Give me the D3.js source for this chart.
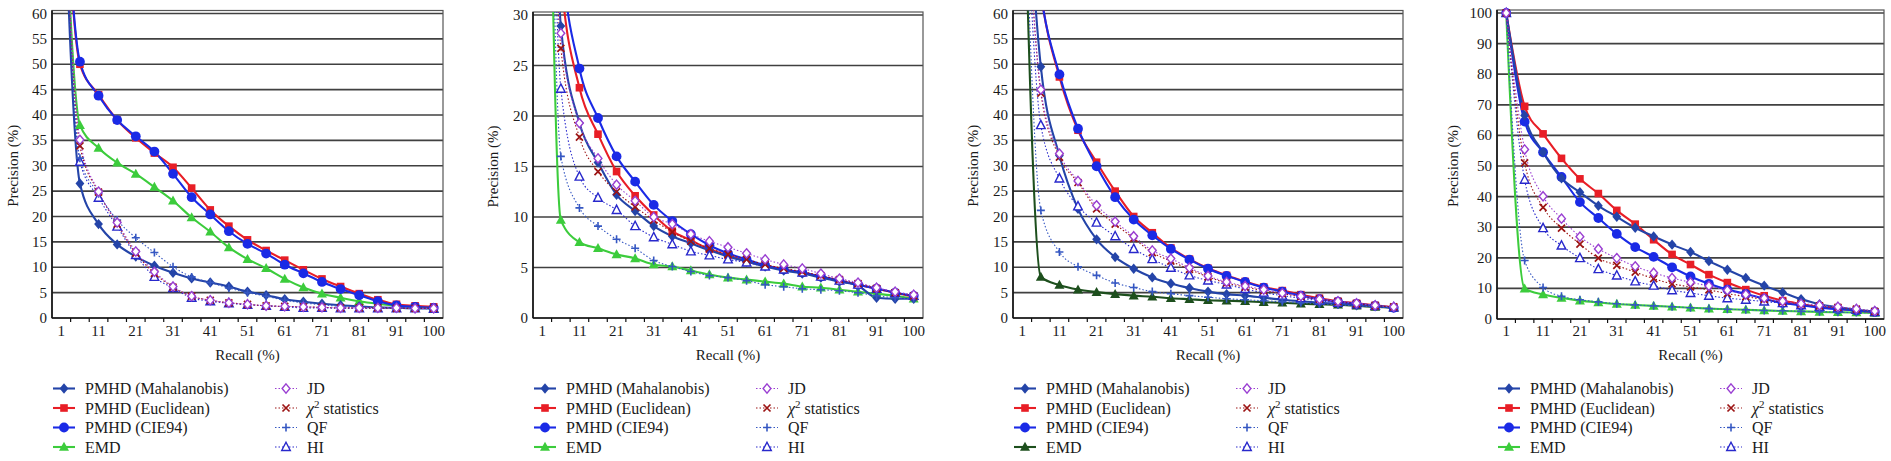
<!DOCTYPE html>
<html><head><meta charset="utf-8">
<script src="https://cdn.jsdelivr.net/npm/d3@7"></script>
<style>
body{margin:0;background:#fff}
svg{display:block}
</style>
</head><body>
<svg id="c" width="1891" height="461"></svg>
<script>
// ---- categories (recall %) ----
const recall = ["1","6","11","16","21","26","31","36","41","46","51","56","61","66","71","76","81","86","91","96","100"];
const xTickLabels = ["1","11","21","31","41","51","61","71","81","91","100"];
const seriesNames = ["PMHD (Mahalanobis)","PMHD (Euclidean)","PMHD (CIE94)","EMD","JD","χ2 statistics","QF","HI"];

// ---- panel 1 ----
const mahal1 = [100,26.5,18.5,14.5,12.1,10.3,8.9,7.8,7.0,6.2,5.2,4.5,3.7,3.2,2.8,2.5,2.3,2.1,2.0,1.9,1.9];
const eucl1  = [100,50.0,44.0,39.0,35.5,32.5,29.7,25.6,21.3,18.1,15.4,13.3,11.4,9.5,7.7,6.2,4.8,3.6,2.7,2.4,2.2];
const cie1   = [100,50.5,43.8,39.0,35.8,32.8,28.4,23.8,20.4,17.1,14.6,12.7,10.5,8.8,7.1,5.7,4.5,3.3,2.5,2.2,2.0];
const emd1   = [100,38.0,33.5,30.6,28.4,25.8,23.1,19.8,17.0,13.9,11.6,9.8,7.7,6.0,4.8,4.0,3.3,2.8,2.4,2.2,2.0];
const jd1    = [100,35.1,24.9,18.8,13.1,9.1,6.2,4.3,3.5,3.0,2.7,2.4,2.3,2.2,2.1,2.0,2.0,2.0,2.0,1.9,1.9];
const chi1   = [100,33.9,24.8,18.5,12.8,8.8,6.1,4.3,3.5,3.0,2.7,2.4,2.3,2.2,2.1,2.0,2.0,2.0,1.9,1.9,1.9];
const qf1    = [100,31.5,24.5,19.3,15.8,12.9,10.1,8.1,7.0,5.9,5.0,4.3,3.5,3.0,2.6,2.3,2.1,2.0,1.9,1.9,1.8];
const hi1    = [100,30.8,23.7,18.0,12.4,8.1,5.9,4.0,3.3,2.9,2.6,2.4,2.2,2.0,2.0,1.9,1.9,1.9,1.9,1.9,1.8];

// ---- panel 2 ----
const mahal2 = [100,28.9,19.3,15.4,12.2,10.6,9.1,8.1,7.4,6.7,6.1,5.6,5.1,4.7,4.4,4.0,3.6,3.2,2.0,1.9,1.9];
const eucl2  = [100,34.0,22.8,18.2,14.5,12.1,10.2,8.6,7.7,6.8,6.2,5.6,5.2,4.8,4.5,4.1,3.7,3.3,2.9,2.5,2.1];
const cie2   = [100,37.0,24.7,19.8,16.0,13.5,11.2,9.6,8.3,7.2,6.4,5.8,5.2,4.8,4.5,4.1,3.7,3.3,2.9,2.5,2.2];
const emd2   = [100,9.7,7.5,6.9,6.3,5.9,5.3,5.1,4.7,4.3,4.0,3.8,3.6,3.4,3.1,3.0,2.8,2.6,2.4,2.2,1.9];
const jd2    = [100,28.2,19.3,15.8,13.2,11.6,10.0,9.3,8.3,7.6,7.0,6.4,5.8,5.3,4.9,4.4,3.9,3.5,3.0,2.6,2.3];
const chi2   = [100,26.7,17.9,14.5,12.5,11.0,9.7,8.5,7.6,6.9,6.3,5.8,5.3,4.9,4.6,4.2,3.8,3.4,2.9,2.5,2.2];
const qf2    = [100,16.0,10.9,9.1,7.8,6.9,5.7,5.1,4.6,4.2,4.0,3.7,3.3,3.1,2.9,2.8,2.7,2.5,2.2,2.0,1.9];
const hi2    = [100,22.7,14.0,11.9,10.7,9.1,8.0,7.3,6.6,6.2,5.8,5.5,5.1,4.8,4.5,4.1,3.7,3.3,2.9,2.5,2.2];

// ---- panel 3 ----
const mahal3 = [100,49.5,32.0,21.5,15.5,12.0,9.7,8.0,6.8,5.9,5.2,4.7,4.4,4.0,3.6,3.3,3.0,2.8,2.5,2.3,2.1];
const eucl3  = [100,64.0,47.5,37.0,30.7,25.0,20.0,16.8,13.8,11.6,9.8,8.4,7.2,6.1,5.4,4.6,3.9,3.3,2.9,2.5,2.1];
const cie3   = [100,64.0,48.0,37.3,29.9,23.8,19.4,16.3,13.6,11.5,9.7,8.3,7.1,6.0,5.2,4.4,3.7,3.2,2.8,2.4,2.0];
const emd3   = [100,8.1,6.5,5.6,5.1,4.7,4.4,4.2,3.9,3.7,3.5,3.4,3.3,3.1,3.0,2.8,2.7,2.6,2.4,2.2,2.0];
const jd3    = [100,45.0,32.4,27.0,22.2,19.0,16.1,13.3,11.7,9.9,8.3,7.1,6.3,5.6,4.9,4.3,3.7,3.3,2.9,2.5,2.2];
const chi3   = [100,44.3,31.7,26.7,21.5,18.5,15.7,12.9,11.2,9.6,8.1,6.9,6.1,5.4,4.8,4.2,3.7,3.2,2.8,2.4,2.2];
const qf3    = [100,21.2,13.0,10.1,8.4,6.9,6.0,5.2,4.8,4.4,4.1,3.8,3.6,3.4,3.2,3.0,2.8,2.6,2.4,2.2,2.0];
const hi3    = [100,38.0,27.5,22.0,18.8,16.1,13.6,11.6,9.9,8.4,7.4,6.6,5.7,5.0,4.4,3.9,3.4,3.0,2.7,2.4,2.1];

// ---- panel 4 ----
const mahal4 = [100,66.5,54.5,46.0,41.4,37.0,33.4,29.8,27.0,24.3,21.9,18.9,16.1,13.4,10.9,8.7,6.5,4.8,3.8,3.0,2.4];
const eucl4  = [100,69.5,60.5,52.5,45.8,41.0,35.5,31.0,25.9,21.1,17.8,14.5,11.9,9.6,7.6,6.0,4.9,3.9,3.3,2.8,2.2];
const cie4   = [100,64.5,54.5,46.4,38.2,33.0,27.8,23.5,20.3,16.9,13.9,11.5,9.6,8.2,6.6,5.2,4.5,3.7,3.2,2.8,2.3];
const emd4   = [100,9.9,8.0,6.9,6.0,5.4,4.9,4.6,4.3,4.0,3.7,3.4,3.2,3.0,2.8,2.6,2.5,2.3,2.2,2.1,2.0];
const jd4    = [100,55.4,40.1,32.8,26.9,22.9,19.9,17.2,15.1,13.4,12.0,10.8,9.4,8.0,6.8,5.8,5.0,4.5,4.0,3.3,2.6];
const chi4   = [100,51.0,36.5,29.7,24.5,19.9,17.5,15.3,13.2,11.5,10.5,9.5,8.3,7.3,6.4,5.6,4.9,4.3,3.8,3.2,2.5];
const qf4    = [100,19.1,10.3,7.4,6.3,5.6,5.0,4.6,4.3,4.0,3.7,3.4,3.2,3.0,2.8,2.7,2.5,2.4,2.2,2.1,2.0];
const hi4    = [100,45.5,29.7,24.0,19.9,16.3,14.2,12.3,10.9,9.4,8.5,7.6,6.8,6.3,5.7,5.2,4.5,4.0,3.5,3.0,2.3];

// ---- y-axis ranges ----
const yMaxes = [60, 30, 60, 100];
const ySteps = [5, 5, 5, 10];

// ---- styles (not data) ----
const FONT = "Liberation Serif";
const styles = [
  {color:"#2444a8", marker:"diamond", dotted:false},
  {color:"#e81e26", marker:"square",  dotted:false},
  {color:"#1a2ae6", marker:"circle",  dotted:false},
  {color:"#3ccc3c", marker:"triangle",dotted:false},
  {color:"#9a3fd2", marker:"odiamond",dotted:true},
  {color:"#9c1414", marker:"x",       dotted:true},
  {color:"#3557c2", marker:"plus",    dotted:true},
  {color:"#2828cc", marker:"otriangle",dotted:true}
];
const emdDark = "#1d4f1d";

const panelData = [
  [mahal1,eucl1,cie1,emd1,jd1,chi1,qf1,hi1],
  [mahal2,eucl2,cie2,emd2,jd2,chi2,qf2,hi2],
  [mahal3,eucl3,cie3,emd3,jd3,chi3,qf3,hi3],
  [mahal4,eucl4,cie4,emd4,jd4,chi4,qf4,hi4]
];
const layout = [
  {left:52,  right:443,  top:13.5, bottom:318, ylab:13},
  {left:533, right:923,  top:15,   bottom:318, ylab:493},
  {left:1013,right:1403, top:13.5, bottom:318, ylab:973},
  {left:1497,right:1884, top:13,   bottom:319, ylab:1453}
];

const svg = d3.select("#c");
const defs = svg.append("defs");

function txt(g){ return g.append("text").attr("font-family", FONT).attr("fill", "#1a1a1a"); }

function drawMarker(g, type, cx, cy, color){
  switch(type){
    case "diamond":
      g.append("path").attr("d",`M${cx},${cy-5.2}L${cx+4.4},${cy}L${cx},${cy+5.2}L${cx-4.4},${cy}Z`).attr("fill",color); break;
    case "odiamond":
      g.append("path").attr("d",`M${cx},${cy-4.6}L${cx+3.9},${cy}L${cx},${cy+4.6}L${cx-3.9},${cy}Z`).attr("fill","#fff").attr("stroke",color).attr("stroke-width",1.4); break;
    case "square":
      g.append("rect").attr("x",cx-3.8).attr("y",cy-3.8).attr("width",7.6).attr("height",7.6).attr("fill",color); break;
    case "circle":
      g.append("circle").attr("cx",cx).attr("cy",cy).attr("r",4.9).attr("fill",color); break;
    case "triangle":
      g.append("path").attr("d",`M${cx},${cy-5.2}L${cx+5},${cy+3.8}L${cx-5},${cy+3.8}Z`).attr("fill",color); break;
    case "otriangle":
      g.append("path").attr("d",`M${cx},${cy-4.8}L${cx+4.3},${cy+3.5}L${cx-4.3},${cy+3.5}Z`).attr("fill","#fff").attr("stroke",color).attr("stroke-width",1.4); break;
    case "x":
      g.append("path").attr("d",`M${cx-3.5},${cy-3.5}L${cx+3.5},${cy+3.5}M${cx-3.5},${cy+3.5}L${cx+3.5},${cy-3.5}`).attr("stroke",color).attr("stroke-width",1.7); break;
    case "plus":
      g.append("path").attr("d",`M${cx-4},${cy}L${cx+4},${cy}M${cx},${cy-4}L${cx},${cy+4}`).attr("stroke",color).attr("stroke-width",1.6); break;
  }
}

panelData.forEach((series, pi) => {
  const L = layout[pi];
  const yMax = yMaxes[pi], yStep = ySteps[pi];
  const g = svg.append("g");
  const x = d3.scaleBand().domain(recall).range([L.left, L.right]).paddingInner(0).paddingOuter(0);
  const bw = x.bandwidth();
  const cx = r => x(r) + bw/2;
  const y = d3.scaleLinear().domain([0, yMax]).range([L.bottom, L.top]);
  const frameTop = L.top - 3;

  // gridlines
  const yTicks = d3.range(0, yMax + 0.001, yStep);
  g.selectAll(".grid").data(yTicks.filter(v => v > 0)).enter().append("line")
    .attr("x1", L.left).attr("x2", L.right).attr("y1", d => y(d)).attr("y2", d => y(d))
    .attr("stroke", "#404040").attr("stroke-width", 1.7);
  // frame
  g.append("rect").attr("x", L.left).attr("y", frameTop).attr("width", L.right - L.left).attr("height", L.bottom - frameTop)
    .attr("fill", "none").attr("stroke", "#555").attr("stroke-width", 1.2);
  g.append("line").attr("x1", L.left).attr("x2", L.left).attr("y1", frameTop).attr("y2", L.bottom).attr("stroke", "#111").attr("stroke-width", 1.6);
  g.append("line").attr("x1", L.left).attr("x2", L.right).attr("y1", L.bottom).attr("y2", L.bottom).attr("stroke", "#111").attr("stroke-width", 1.6);

  // y tick labels
  yTicks.forEach(v => {
    txt(g).attr("x", L.left - 5).attr("y", y(v) + 5).attr("text-anchor", "end").attr("font-size", 15).text(v);
  });

  // x tick marks at category boundaries
  const bounds = d3.range(1, recall.length);
  g.selectAll(".xt").data(bounds).enter().append("line")
    .attr("x1", d => L.left + d*bw).attr("x2", d => L.left + d*bw)
    .attr("y1", L.bottom).attr("y2", L.bottom + 4).attr("stroke", "#111").attr("stroke-width", 1.2);
  xTickLabels.forEach(d => {
    txt(g).attr("x", cx(d)).attr("y", 336).attr("text-anchor", "middle").attr("font-size", 15).text(d);
  });

  // axis titles
  txt(g).attr("x", (L.left + L.right)/2).attr("y", 360).attr("text-anchor", "middle").attr("font-size", 15).text("Recall (%)");
  txt(g).attr("transform", `translate(${L.ylab},${(L.top + L.bottom)/2}) rotate(-90)`)
    .attr("text-anchor", "middle").attr("dy", "0.35em").attr("font-size", 15).text("Precision (%)");

  // clip
  const cid = "clip" + pi;
  defs.append("clipPath").attr("id", cid).append("rect")
    .attr("x", L.left).attr("y", frameTop).attr("width", L.right - L.left).attr("height", L.bottom - frameTop);

  const line = d3.line().x((d, i) => cx(recall[i])).y(d => y(d)).curve(d3.curveMonotoneX);
  const order = [3, 1, 2, 0, 7, 6, 5, 4];
  const colorOf = si => (si === 3 && pi === 2) ? emdDark : styles[si].color;
  const lg = g.append("g").attr("clip-path", `url(#${cid})`);
  order.forEach(si => {
    const st = styles[si];
    lg.append("path").attr("d", line(series[si])).attr("fill", "none")
      .attr("stroke", colorOf(si)).attr("stroke-width", st.dotted ? 1.1 : 2.1)
      .attr("stroke-dasharray", st.dotted ? "1.5,2" : null);
  });
  const mg = g.append("g");
  order.forEach(si => {
    series[si].forEach((v, i) => {
      if (v <= yMax) drawMarker(mg, styles[si].marker, cx(recall[i]), y(v), colorOf(si));
    });
  });

  // legend
  const rows = [388.5, 408, 427.5, 447];
  seriesNames.forEach((name, si) => {
    const col = Math.floor(si / 4), row = si % 4;
    const lx = L.left + 1 + col * 222, ly = rows[row];
    const st = styles[si];
    g.append("line").attr("x1", lx).attr("x2", lx + 22).attr("y1", ly).attr("y2", ly)
      .attr("stroke", colorOf(si)).attr("stroke-width", st.dotted ? 1.1 : 2.1)
      .attr("stroke-dasharray", st.dotted ? "1.5,2" : null);
    drawMarker(g, st.marker, lx + 11, ly, colorOf(si));
    const t = txt(g).attr("x", lx + 32).attr("y", ly + 5.5).attr("font-size", 16);
    if (si === 5) {
      t.append("tspan").attr("font-style", "italic").text("χ");
      t.append("tspan").attr("dy", -6).attr("font-size", 11).text("2");
      t.append("tspan").attr("dy", 6).text(" statistics");
    } else {
      t.text(name);
    }
  });
});
</script>
</body></html>
